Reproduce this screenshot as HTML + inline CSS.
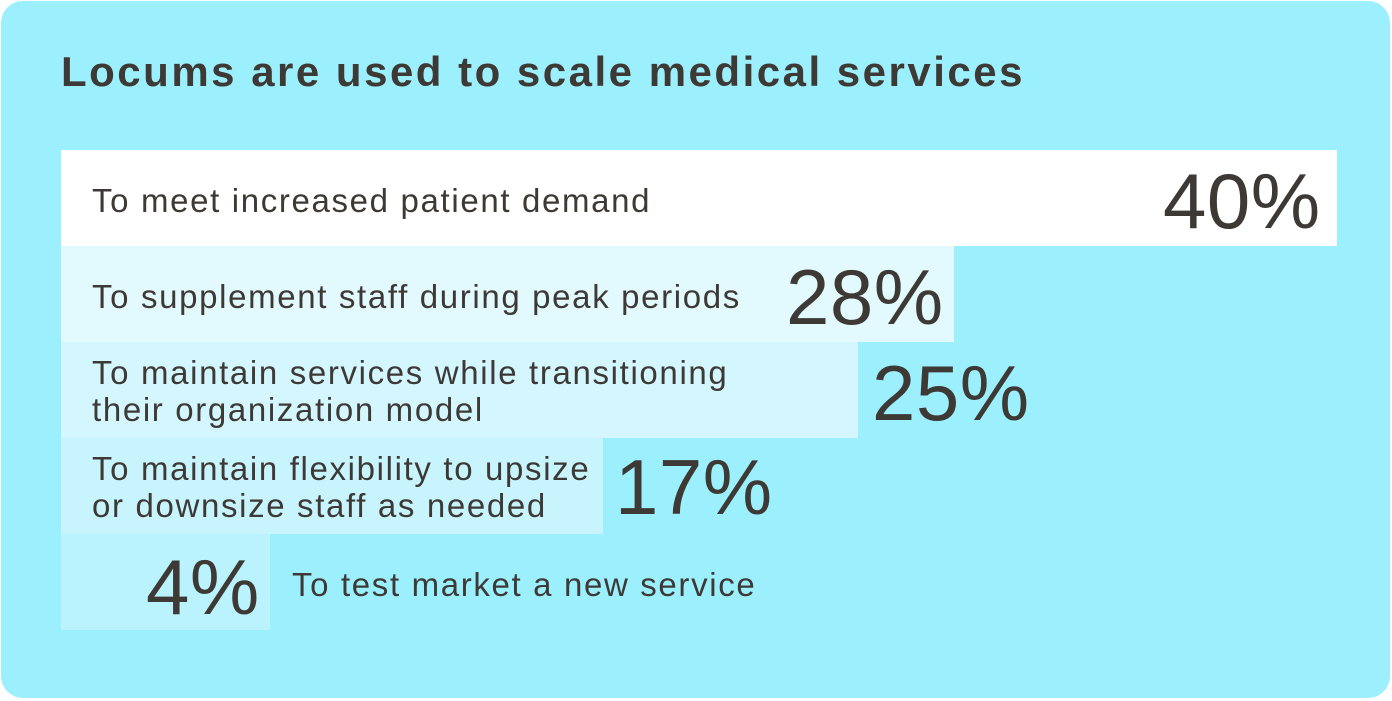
<!DOCTYPE html><html><head><style>
body{margin:0;width:1392px;height:701px;background:#fff;font-family:"Liberation Sans",sans-serif;color:#3d3935;overflow:hidden}
.card{position:absolute;left:1px;top:1px;width:1389px;height:697px;background:#9cf0fd;border-radius:22px}
h1{position:absolute;left:61px;top:48px;margin:0;font-size:42px;font-weight:bold;letter-spacing:2.5px}
.bar{position:absolute;left:61px;height:96px}
.lb{position:absolute;font-size:33px;line-height:37px;letter-spacing:1.65px;white-space:nowrap}
.n{position:absolute;font-size:78px;line-height:78px;letter-spacing:0.5px}
</style></head><body><div class="card"></div>
<h1>Locums are used to scale medical services</h1>
<div class="bar" style="top:150px;width:1276px;background:#fff"></div>
<div class="bar" style="top:246px;width:893px;background:#e2f9fe"></div>
<div class="bar" style="top:342px;width:797px;background:#d4f6fe"></div>
<div class="bar" style="top:438px;width:542px;background:#c8f4fe"></div>
<div class="bar" style="top:534px;width:209px;background:#baf2fd"></div>
<div class="lb" style="left:92px;top:182px">To meet increased patient demand</div>
<div class="n" style="left:1163px;top:162px">40%</div>
<div class="lb" style="left:92px;top:278px">To supplement staff during peak periods</div>
<div class="n" style="left:786px;top:258px">28%</div>
<div class="lb" style="left:92px;top:354px">To maintain services while transitioning<br>their organization model</div>
<div class="n" style="left:872px;top:354px">25%</div>
<div class="lb" style="left:92px;top:450px">To maintain flexibility to upsize<br>or downsize staff as needed</div>
<div class="n" style="left:615px;top:448px">17%</div>
<div class="n" style="left:146px;top:548px">4%</div>
<div class="lb" style="left:292px;top:566px">To test market a new service</div>
</body></html>
